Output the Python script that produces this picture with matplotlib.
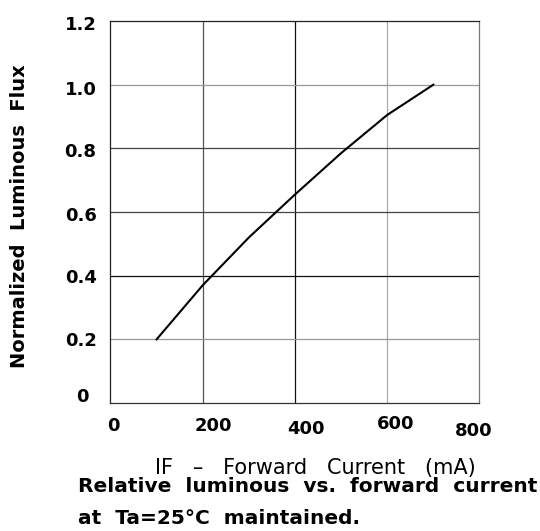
import matplotlib
matplotlib.use("Agg")
import matplotlib.pyplot as plt
import matplotlib.transforms as mtransforms

# data
current_ma = [100, 200, 300, 400, 500, 600, 700]
norm_flux = [0.20, 0.37, 0.52, 0.655, 0.785, 0.905, 1.0]

x_ticks = [0, 200, 400, 600, 800]
x_labels = ['0', '200', '400', '600', '800']
y_ticks = [0, 0.2, 0.4, 0.6, 0.8, 1.0, 1.2]
y_labels = ['0', '0.2', '0.4', '0.6', '0.8', '1.0', '1.2']

plt.rcParams['font.family'] = ['DejaVu Sans']

fig = plt.figure(figsize=(5.4, 5.31), dpi=100)
ax = fig.add_axes([0.2046, 0.241, 0.6833, 0.7194])

ax.set_xlim(0, 800)
ax.set_ylim(0, 1.2)

# grid lines of varying darkness, like the scanned datasheet
vcols = {200: '#555555', 400: '#111111', 600: '#aaaaaa'}
for xv, c in vcols.items():
    ax.axvline(xv, color=c, lw=0.9, zorder=1)
hcols = {0.2: '#999999', 0.4: '#111111', 0.6: '#444444', 0.8: '#444444', 1.0: '#999999'}
for yv, c in hcols.items():
    ax.axhline(yv, color=c, lw=0.9, zorder=1)

ax.plot(current_ma, norm_flux, color='black', lw=1.5, zorder=3)

for side, c in [('top', '#222222'), ('bottom', '#333333'), ('left', '#222222'), ('right', '#777777')]:
    ax.spines[side].set_color(c)
    ax.spines[side].set_linewidth(0.9)

ax.set_xticks(x_ticks)
ax.set_xticklabels(x_labels)
ax.set_yticks(y_ticks)
ax.set_yticklabels(y_labels)
ax.tick_params(length=0, labelsize=13, pad=10)
for lab in ax.get_xticklabels() + ax.get_yticklabels():
    lab.set_fontweight('bold')

# nudge individual tick labels as in the reference
x_off = [(3, 0), (11, 0), (11, -3), (8, 2), (-6, -5)]
for lab, (dx, dy) in zip(ax.get_xticklabels(), x_off):
    lab.set_transform(lab.get_transform() + mtransforms.ScaledTranslation(dx / 100, dy / 100, fig.dpi_scale_trans))
y_off = [(-8, 8), (0, 0), (0, 0), (0, -2), (0, -2), (0, -3), (0, -2)]
for lab, (dx, dy) in zip(ax.get_yticklabels(), y_off):
    lab.set_transform(lab.get_transform() + mtransforms.ScaledTranslation(dx / 100, dy / 100, fig.dpi_scale_trans))

fig.text(20 / 540, 1 - 216 / 531, 'Normalized  Luminous  Flux', rotation=90,
         ha='center', va='center', fontsize=14, fontweight='bold')
fig.text(315 / 540, 1 - 468 / 531, 'IF   \u2013   Forward   Current   (mA)',
         ha='center', va='center', fontsize=15)
fig.text(78 / 540, 1 - 487 / 531, 'Relative  luminous  vs.  forward  current',
         ha='left', va='center', fontsize=14.5, fontweight='bold')
fig.text(78 / 540, 1 - 519 / 531, 'at  Ta=25\u00b0C  maintained.',
         ha='left', va='center', fontsize=14.5, fontweight='bold')

fig.savefig('out.png', dpi=100)
